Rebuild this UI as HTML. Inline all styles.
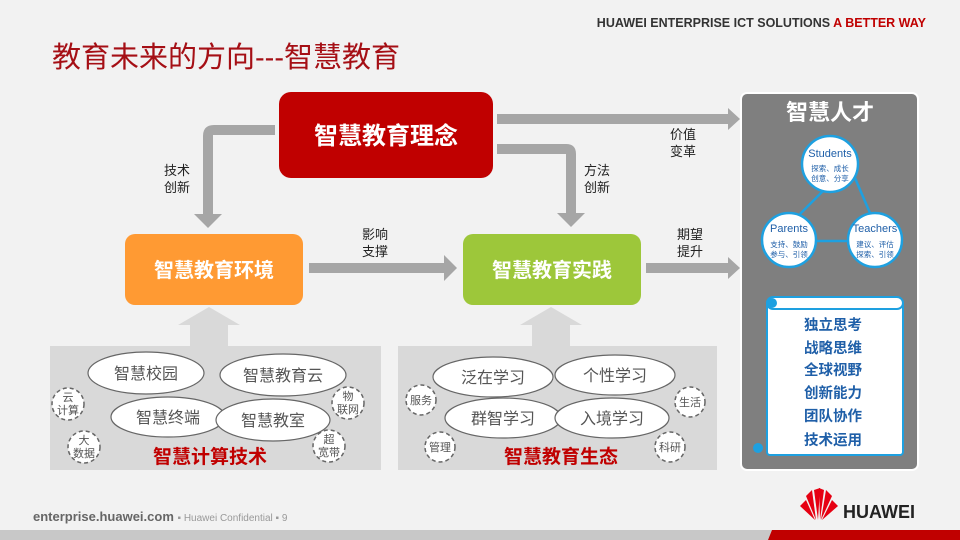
<!DOCTYPE html>
<html><head><meta charset="utf-8"><style>
body{margin:0;background:#f2f2f2}
svg{display:block;font-family:"Liberation Sans","Noto Sans CJK SC",sans-serif}
</style></head><body>
<svg width="960" height="540" viewBox="0 0 960 540" xmlns="http://www.w3.org/2000/svg">
<rect width="960" height="540" fill="#f2f2f2"/>
<text x="926" y="27" text-anchor="end" font-size="12.5" font-weight="bold" fill="#333">HUAWEI ENTERPRISE ICT SOLUTIONS <tspan fill="#c00000">A BETTER WAY</tspan></text>
<text x="52" y="67" font-size="29" fill="#a50f15">教育未来的方向---智慧教育</text>

<!-- grey arrows -->
<g fill="#a6a6a6">
<path d="M275 125 L214 125 Q203 125 203 136 L203 214 L194 214 L208 228 L222 214 L213 214 L213 135 L275 135 Z"/>
<path d="M497 114 L728 114 L728 108 L740 119 L728 130 L728 124 L497 124 Z"/>
<path d="M497 144 L566 144 Q576 144 576 154 L576 213 L585 213 L571 227 L557 213 L566 213 L566 154 L497 154 Z"/>
<path d="M309 263 L444 263 L444 255 L457 268 L444 281 L444 273 L309 273 Z"/>
<path d="M646 263 L728 263 L728 257 L740 268 L728 279 L728 273 L646 273 Z"/>
</g>
<g fill="#d9d9d9">
<path d="M190 346 L190 325 L178 325 L209 307 L240 325 L228 325 L228 346 Z"/>
<path d="M532 346 L532 325 L520 325 L551 307 L582 325 L570 325 L570 346 Z"/>
<rect x="50" y="346" width="331" height="124"/>
<rect x="398" y="346" width="319" height="124"/>
</g>

<!-- main boxes -->
<rect x="279" y="92" width="214" height="86" rx="12" fill="#c00000"/>
<text x="386" y="144" text-anchor="middle" font-size="24" font-weight="bold" fill="#fff">智慧教育理念</text>
<rect x="125" y="234" width="178" height="71" rx="10" fill="#ff9a33"/>
<text x="214" y="277" text-anchor="middle" font-size="20" font-weight="bold" fill="#fff">智慧教育环境</text>
<rect x="463" y="234" width="178" height="71" rx="10" fill="#9dc73a"/>
<text x="552" y="277" text-anchor="middle" font-size="20" font-weight="bold" fill="#fff">智慧教育实践</text>

<g font-size="13" fill="#222" text-anchor="middle">
<text x="177" y="175">技术</text><text x="177" y="192">创新</text>
<text x="597" y="175">方法</text><text x="597" y="192">创新</text>
<text x="683" y="139">价值</text><text x="683" y="156">变革</text>
<text x="375" y="239">影响</text><text x="375" y="256">支撑</text>
<text x="690" y="239">期望</text><text x="690" y="256">提升</text>
</g>

<!-- ellipses -->
<g fill="#fff" stroke="#666" stroke-width="1.2">
<ellipse cx="146" cy="373" rx="58" ry="21"/>
<ellipse cx="283" cy="375" rx="63" ry="21"/>
<ellipse cx="168" cy="417" rx="57" ry="20"/>
<ellipse cx="273" cy="420" rx="57" ry="21"/>
<ellipse cx="493" cy="377" rx="60" ry="20"/>
<ellipse cx="615" cy="375" rx="60" ry="20"/>
<ellipse cx="503" cy="418" rx="58" ry="20"/>
<ellipse cx="612" cy="418" rx="57" ry="20"/>
</g>
<g fill="#fff" stroke="#666" stroke-width="1.5" stroke-dasharray="4 3">
<circle cx="68" cy="404" r="16"/><circle cx="84" cy="447" r="16"/>
<circle cx="348" cy="403" r="16"/><circle cx="329" cy="446" r="16"/>
<circle cx="421" cy="400" r="15"/><circle cx="690" cy="402" r="15"/>
<circle cx="440" cy="447" r="15"/><circle cx="670" cy="447" r="15"/>
</g>
<g font-size="16" fill="#555" text-anchor="middle">
<text x="146" y="379">智慧校园</text><text x="283" y="381">智慧教育云</text>
<text x="168" y="423">智慧终端</text><text x="273" y="426">智慧教室</text>
<text x="493" y="383">泛在学习</text><text x="615" y="381">个性学习</text>
<text x="503" y="424">群智学习</text><text x="612" y="424">入境学习</text>
</g>
<g font-size="11" fill="#555" text-anchor="middle">
<text x="68" y="401">云</text><text x="68" y="414">计算</text>
<text x="84" y="444">大</text><text x="84" y="457">数据</text>
<text x="348" y="400">物</text><text x="348" y="413">联网</text>
<text x="329" y="443">超</text><text x="329" y="456">宽带</text>
<text x="421" y="404">服务</text><text x="690" y="406">生活</text>
<text x="440" y="451">管理</text><text x="670" y="451">科研</text>
</g>
<text x="210" y="463" text-anchor="middle" font-size="19" font-weight="bold" fill="#c00000">智慧计算技术</text>
<text x="561" y="463" text-anchor="middle" font-size="19" font-weight="bold" fill="#c00000">智慧教育生态</text>

<!-- right panel -->
<rect x="741" y="93" width="177" height="377" rx="6" fill="#7f7f7f" stroke="#fff" stroke-width="2"/>
<text x="830" y="120" text-anchor="middle" font-size="22" font-weight="bold" fill="#fff">智慧人才</text>
<g stroke="#1ea0e0" stroke-width="2.5">
<line x1="836" y1="178" x2="800" y2="214"/><line x1="855" y1="178" x2="870" y2="213"/>
<line x1="817" y1="241" x2="847" y2="241"/>
</g>
<g fill="#fff" stroke="#1ea0e0" stroke-width="2.5">
<circle cx="830" cy="164" r="28"/><circle cx="789" cy="240" r="27"/><circle cx="875" cy="240" r="27"/>
</g>
<g text-anchor="middle" fill="#1f5fa8">
<text x="830" y="157" font-size="11">Students</text>
<text x="830" y="171" font-size="7.5">探索、成长</text><text x="830" y="181" font-size="7.5">创意、分享</text>
<text x="789" y="232" font-size="11">Parents</text>
<text x="789" y="247" font-size="7.5">支持、鼓励</text><text x="789" y="257" font-size="7.5">参与、引领</text>
<text x="875" y="232" font-size="11">Teachers</text>
<text x="875" y="247" font-size="7.5">建议、评估</text><text x="875" y="257" font-size="7.5">探索、引领</text>
</g>
<rect x="767" y="300" width="136" height="155" rx="3" fill="#fff" stroke="#1ea0e0" stroke-width="2"/>
<rect x="767" y="297" width="136" height="12" rx="6" fill="#fff" stroke="#1ea0e0" stroke-width="2"/>
<circle cx="772" cy="303" r="5" fill="#1ea0e0"/>
<circle cx="758" cy="448" r="5" fill="#1ea0e0"/>
<g font-size="14.5" font-weight="bold" fill="#1f5fa8" text-anchor="middle">
<text x="833" y="330">独立思考</text><text x="833" y="353">战略思维</text>
<text x="833" y="375">全球视野</text><text x="833" y="398">创新能力</text>
<text x="833" y="421">团队协作</text><text x="833" y="445">技术运用</text>
</g>

<!-- footer -->
<text x="33" y="521" font-size="13" font-weight="bold" fill="#666">enterprise.huawei.com <tspan font-size="10" font-weight="normal" fill="#999">▪ Huawei Confidential ▪ 9</tspan></text>
<g fill="#e60012">
<path d="M815 520 L800 506 L806 500 Z"/><path d="M816 520 L806 496 L812 490 Z"/>
<path d="M818 520 L814 490 L820 488 Z"/>
<path d="M822 520 L838 506 L832 500 Z"/><path d="M821 520 L832 496 L826 490 Z"/>
<path d="M820 520 L824 490 L819 488 Z"/>
</g>
<text x="843" y="518" font-size="18" font-weight="bold" fill="#222">HUAWEI</text>
<rect x="0" y="530" width="960" height="10" fill="#c8c8c8"/>
<path d="M772 530 L960 530 L960 540 L768 540 Z" fill="#c00000"/>
</svg>
</body></html>
